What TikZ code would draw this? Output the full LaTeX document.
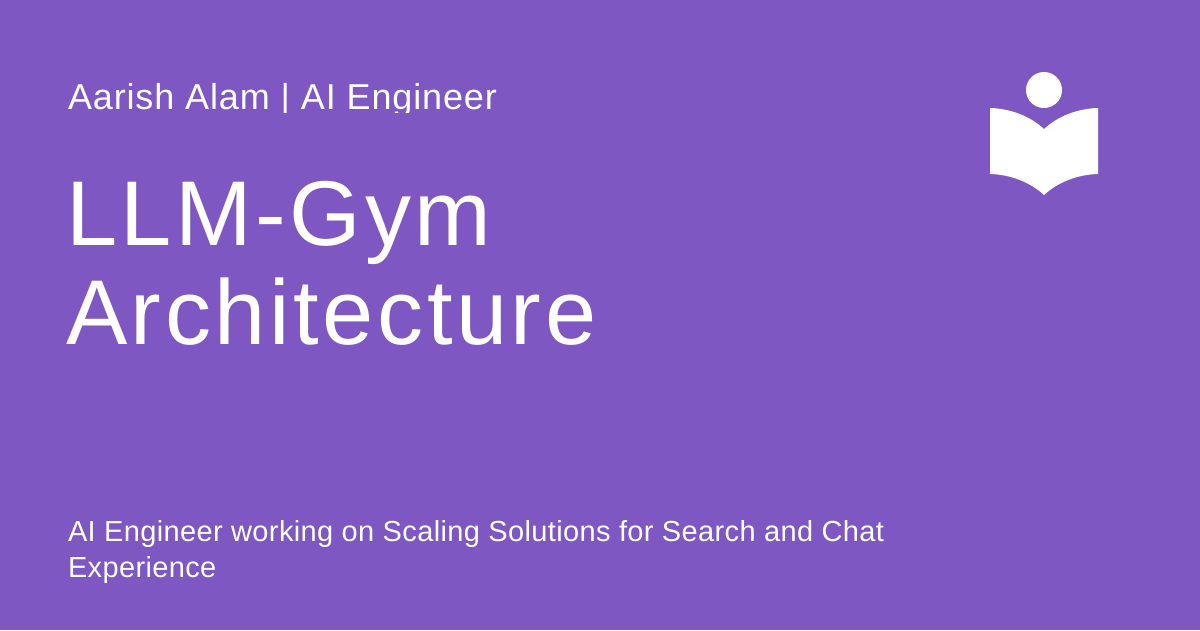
\documentclass[tikz,border=0pt]{standalone}
\usepackage{fontspec}
\setmainfont{Liberation Sans}
\newfontfamily\topfont[LetterSpace=2.4]{Liberation Sans}
\newfontfamily\titlefont[LetterSpace=3.9]{Liberation Sans}
\newfontfamily\descfont[LetterSpace=1.25]{Liberation Sans}
\definecolor{bg}{HTML}{7E57C2}
\begin{document}
\begin{tikzpicture}[x=1pt,y=-1pt,
  txt/.style={anchor=base west,inner sep=0pt,outer sep=0pt,text=white}]
\useasboundingbox (0,0) rectangle (1200,630);
\fill[bg] (0,0) rectangle (1200,630);
\begin{scope}
\clip (60,60) rectangle (520,112);
\node[txt,font=\topfont\fontsize{36}{40}\selectfont] (a) at (68,109) {Aarish Alam | AI Engineer};
\end{scope}
\node[txt,font=\titlefont\fontsize{92}{100}\selectfont] (b) at (66,245) {LLM-Gym};
\node[txt,font=\titlefont\fontsize{92}{100}\selectfont] (c) at (66,344) {Architecture};
\node[txt,font=\descfont\fontsize{29}{32}\selectfont] (d) at (68,541) {AI Engineer working on Scaling Solutions for Search and Chat};
\node[txt,font=\descfont\fontsize{29}{32}\selectfont] (e) at (68,577) {Experience};
\fill[white] (1044,90) circle (18);
\fill[white] (990,108) .. controls (1010,108.5) and (1030,116) .. (1044,129) .. controls (1058,116) and (1078,108.5) .. (1098,108) -- (1098,174) .. controls (1078,174.5) and (1058,182) .. (1044,195) .. controls (1030,182) and (1010,174.5) .. (990,174) -- cycle;
\end{tikzpicture}
\end{document}
